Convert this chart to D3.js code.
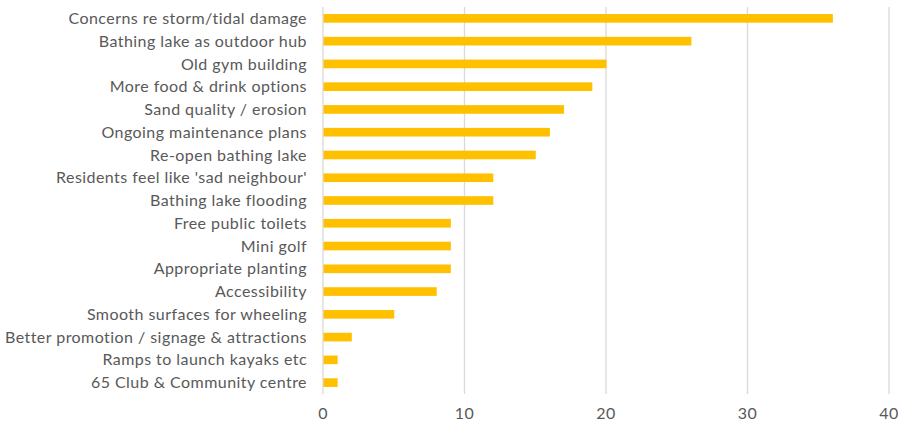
<!DOCTYPE html>
<html><head><meta charset="utf-8">
<script src="https://cdn.jsdelivr.net/npm/d3@7"></script>
<style>body{margin:0;background:#fff;}svg{display:block;}</style>
</head><body>
<svg id="c" width="898" height="422"></svg>
<script>
const categories = ["Concerns re storm/tidal damage","Bathing lake as outdoor hub","Old gym building","More food & drink options","Sand quality / erosion","Ongoing maintenance plans","Re-open bathing lake","Residents feel like 'sad neighbour'","Bathing lake flooding","Free public toilets","Mini golf","Appropriate planting","Accessibility","Smooth surfaces for wheeling","Better promotion / signage & attractions","Ramps to launch kayaks etc","65 Club & Community centre"];
const values = [36,26,20,19,17,16,15,12,12,9,9,9,8,5,2,1,1];
const ticks = [0,10,20,30,40];

const svg = d3.select("#c");
const x = d3.scaleLinear().domain([0,40]).range([323,889]);
const y = d3.scaleBand().domain(categories).range([7,394]).paddingInner(0.62).paddingOuter(0.31);
const font = "Lato, 'Open Sans', sans-serif";

svg.append("g").selectAll("line").data(ticks).join("line")
  .attr("x1", d=>x(d)).attr("x2", d=>x(d)).attr("y1", 7).attr("y2", 394)
  .attr("stroke", "#d9d9d9").attr("stroke-width", 1.3);

svg.append("g").selectAll("rect").data(values).join("rect")
  .attr("x", x(0)+0.5).attr("y", (d,i)=>y(categories[i]))
  .attr("width", d=>x(d)-x(0)).attr("height", y.bandwidth())
  .attr("fill", "#FFC000");

svg.append("g").selectAll("text").data(categories).join("text")
  .attr("x", 307).attr("y", d=>y(d)+y.bandwidth()/2).attr("dy","0.35em")
  .attr("text-anchor","end").attr("font-family",font).attr("font-size",16)
  .attr("letter-spacing","0.45px")
  .attr("fill","#595959").text(d=>d);

svg.append("g").selectAll("text").data(ticks).join("text")
  .attr("x", d=>x(d)).attr("y", 413).attr("dy","0.35em")
  .attr("text-anchor","middle").attr("font-family",font).attr("font-size",16)
  .attr("letter-spacing","0.45px")
  .attr("fill","#595959").text(d=>d);
</script>
</body></html>
